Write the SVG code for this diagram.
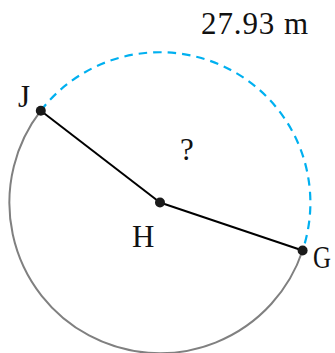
<svg xmlns="http://www.w3.org/2000/svg" width="335" height="353" viewBox="0 0 335 353">
<style>
.lbl{font-family:"Liberation Serif","Times New Roman",serif;font-size:31px;fill:#111}
.dot{fill:#1a1a1a}
.seg{stroke:#000;stroke-width:2;fill:none}
</style>
<rect width="335" height="353" fill="#fff"/>
<g id="circle">
<path d="M302.6 250.5 A150.5 150.5 0 1 1 40.8 110.7" fill="none" stroke="#808080" stroke-width="2"/>
<path d="M40.8 110.7 A150.5 150.5 0 0 1 302.6 250.5" fill="none" stroke="#00b0f0" stroke-width="2.2" stroke-dasharray="8.5 6"/>
</g>
<g id="connectors">
<line class="seg" x1="40.8" y1="110.7" x2="160" y2="202.5"/>
<line class="seg" x1="160" y1="202.5" x2="302.6" y2="250.5"/>
</g>
<g id="J"><circle class="dot" cx="40.8" cy="110.7" r="5"/><text class="lbl" x="18" y="107">J</text></g>
<g id="H"><circle class="dot" cx="160" cy="202.5" r="5"/><text class="lbl" x="132" y="246.5">H</text></g>
<g id="G"><circle class="dot" cx="302.6" cy="250.5" r="5"/><text class="lbl" x="313" y="268" font-size="28" textLength="18" lengthAdjust="spacingAndGlyphs">G</text></g>
<text id="angle" class="lbl" x="180" y="160">?</text>
<text id="arclen" class="lbl" x="201" y="34" textLength="107">27.93 m</text>
</svg>
